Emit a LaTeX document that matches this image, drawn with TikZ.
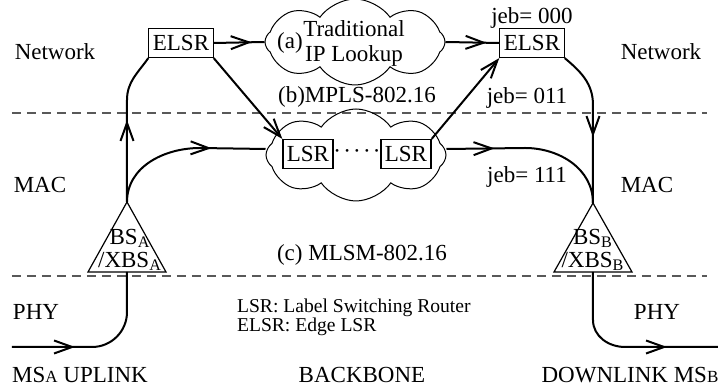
\documentclass[tikz,border=0pt]{standalone}
\usepackage{fontspec}
\setmainfont{Liberation Serif}
\usetikzlibrary{shapes.symbols,arrows.meta,decorations.markings}

\newcommand{\smallcap}[1]{{\fontsize{8.5}{9}\selectfont #1}}

\begin{document}
\begin{tikzpicture}
  [x=0.5pt,y=0.5pt,
   every node/.style={font=\fontsize{11.5}{11.5}\selectfont},
   box/.style={draw,fill=white,line width=.6pt,inner sep=2pt,minimum height=14.5pt},
   puff/.style={draw,cloud,cloud puffs=8,cloud puff arc=110,cloud ignores aspect,line width=.5pt},
   layerline/.style={gray!70!black,line width=.6pt,dash pattern=on 4.5pt off 3pt},
   barb/.style={line width=1pt,-{Straight Barb[length=9pt,width=6.5pt]}},
   flow/.style={line width=1pt,postaction={decorate},
     decoration={markings,mark=at position #1 with {\arrow{Straight Barb[length=9pt,width=6.5pt]}}}}]
  \useasboundingbox (0,0) rectangle (720,-389);

  % layer borders
  \draw[layerline] (12,-113) -- (707,-113);
  \draw[layerline] (12,-276) -- (707,-276);

  % layer names
  \node (netL) at (55,-52)  {Network};
  \node (netR) at (661,-52) {Network};
  \node (macL) at (40,-185) {MAC};
  \node (macR) at (647,-185) {MAC};
  \node (phyL) at (36,-312) {PHY};
  \node (phyR) at (657,-312) {PHY};
  \node (msA)  at (80,-375)  {MS\smallcap{A} UPLINK};
  \node (bone) at (362,-375) {BACKBONE};
  \node (msB)  at (630,-375) {DOWNLINK MS\smallcap{B}};

  % clouds
  \node[puff,minimum width=90pt,minimum height=43pt] (lookup) at (355,-42) {};
  \node (taga) at (290,-43) {(a)};
  \node[align=center] (iptxt) at (354,-43) {Traditional\\[1pt]IP Lookup};
  \node[puff,minimum width=90pt,minimum height=46pt] (lsrcloud) at (356,-155) {};

  % routers
  \node[box] (elsrL) at (181,-43) {ELSR};
  \node[box] (elsrR) at (532,-43) {ELSR};
  \node[box] (lsrL)  at (308,-154) {LSR};
  \node[box] (lsrR)  at (406,-154) {LSR};
  \node (dots) at (357,-154) {·\kern1.1pt·\kern1.1pt·\kern1.1pt·\kern1.1pt·};

  % schemes
  \node (tagb) at (357,-97)  {(b)MPLS-802.16};
  \node (tagc) at (362,-255) {(c) MLSM-802.16};
  \node (jeb0) at (532,-18)  {jeb= 000};
  \node (jeb3) at (527,-98)  {jeb= 011};
  \node (jeb7) at (527,-177) {jeb= 111};

  % legend
  \node[anchor=west,align=left,font=\fontsize{9.8}{9.5}\selectfont] (legend) at (230,-317)
    {LSR: Label Switching Router\\ELSR: Edge LSR};

  % base stations
  \coordinate (apexA) at (127,-202);
  \coordinate (baseA) at (127,-272);
  \coordinate (apexB) at (593,-203);
  \coordinate (baseB) at (593,-272);
  \draw[line width=.6pt] (88,-272) -- (apexA) -- (166,-272) -- cycle;
  \draw[line width=.6pt] (554,-272) -- (apexB) -- (632,-272) -- cycle;
  \node[align=center,inner sep=0pt] (bsA) at (130,-250) {BS\textsubscript{A}\\/XBS\textsubscript{A}};
  \node[align=center,inner sep=0pt] (bsB) at (593,-250) {BS\textsubscript{B}\\/XBS\textsubscript{B}};

  % mobile ends
  \coordinate (inA)  at (12,-347);
  \coordinate (outB) at (718,-347);

  % paths
  \draw[flow=31.5pt] (inA) -- (92,-347) to[out=0,in=-90] (127,-312) -- (baseA);
  \draw[flow=41pt] (apexA) -- (127,-100) to[out=90,in=-125] (elsrL.south west);
  \draw[flow=-27pt] (apexA) to[out=90,in=180] (200,-148) -- ([yshift=3pt]lsrcloud.west);
  \draw[flow=19pt] (elsrL.east) -- (lookup.west);
  \draw[flow=20.5pt] (lookup.east) -- (elsrR.west);
  \draw[flow=24pt] ([yshift=3pt]lsrcloud.east) -- (525,-148) to[out=0,in=90] (apexB);
  \draw[flow=-33pt] (elsrR.south east) to[out=-40,in=90] (593,-105) -- (apexB);
  \draw[flow=-25.5pt] (baseB) -- (593,-320) to[out=-90,in=180] (625,-347) -- (outB);

  \foreach \from/\to in {elsrL.south east/lsrL.north west,lsrR.north east/elsrR.south west}
    \draw[barb] (\from) -- (\to);

\end{tikzpicture}
\end{document}
